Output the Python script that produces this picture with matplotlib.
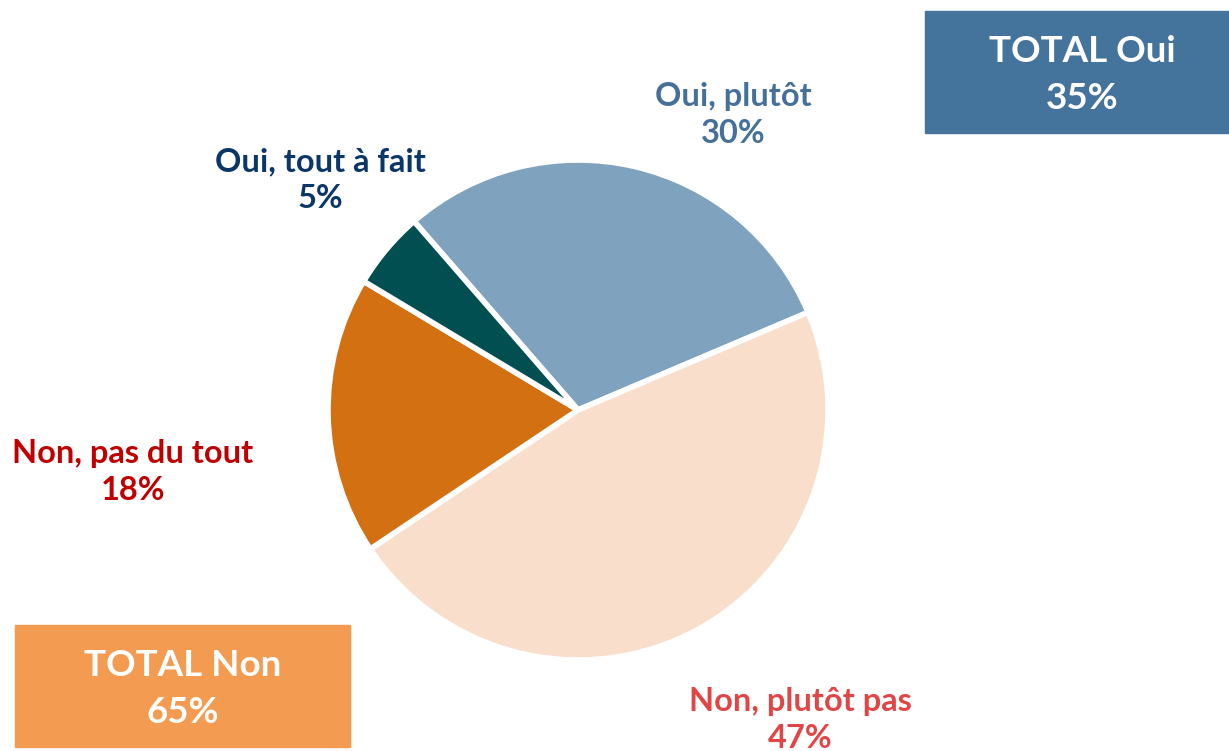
import matplotlib.pyplot as plt
from matplotlib.patches import Rectangle

# data (clockwise from the top-left)
categories = ["Oui, plutôt", "Non, plutôt pas", "Non, pas du tout", "Oui, tout à fait"]
values = [30, 47, 18, 5]
slice_colors = ["#7FA3BF", "#F9DECB", "#D37012", "#024F51"]
label_colors = ["#44709A", "#E04646", "#C00000", "#0B3768"]
yes_groups = ["Oui, plutôt", "Oui, tout à fait"]
no_groups = ["Non, plutôt pas", "Non, pas du tout"]

W, H = 1229, 751


def main():
    plt.rcParams['font.family'] = ['Lato', 'DejaVu Sans']
    fig = plt.figure(figsize=(W / 100, H / 100), dpi=100)

    # pie centred at (578, 410) px, radius 250 px
    cx, cy, r = 578, 410, 250
    ax = fig.add_axes([(cx - r) / W, (H - cy - r) / H, 2 * r / W, 2 * r / H])
    ax.pie(values, colors=slice_colors, startangle=131, counterclock=False,
           radius=1.0, wedgeprops=dict(edgecolor="white", linewidth=4))
    ax.set_xlim(-1, 1)
    ax.set_ylim(-1, 1)
    ax.set_aspect("equal")
    ax.axis("off")

    # slice labels (pixel centres of the two-line blocks)
    label_pos = [(733, 115), (800, 720), (133, 472), (320, 180)]
    for cat, val, col, (px, py) in zip(categories, values, label_colors, label_pos):
        fig.text(px / W, 1 - py / H, f"{cat}\n{val}%", color=col,
                 fontsize=23.5, fontweight="bold", ha="center", va="center",
                 linespacing=1.33)

    # total boxes
    total_yes = sum(v for c, v in zip(categories, values) if c in yes_groups)
    total_no = sum(v for c, v in zip(categories, values) if c in no_groups)

    fig.patches.append(Rectangle((925 / W, 1 - 133 / H), 304 / W, 122 / H,
                                 transform=fig.transFigure, color="#44749C"))
    fig.text(1082 / W, 1 - 75 / H, f"TOTAL Oui\n{total_yes}%", color="white",
             fontsize=26.5, fontweight="bold", ha="center", va="center",
             linespacing=1.5)

    fig.patches.append(Rectangle((15 / W, 1 - 747 / H), 335 / W, 122 / H,
                                 transform=fig.transFigure, color="#F29B51"))
    fig.text(183 / W, 1 - 689 / H, f"TOTAL Non\n{total_no}%", color="white",
             fontsize=26.5, fontweight="bold", ha="center", va="center",
             linespacing=1.5)

    fig.savefig("out.png", dpi=100)


if __name__ == "__main__":
    main()
